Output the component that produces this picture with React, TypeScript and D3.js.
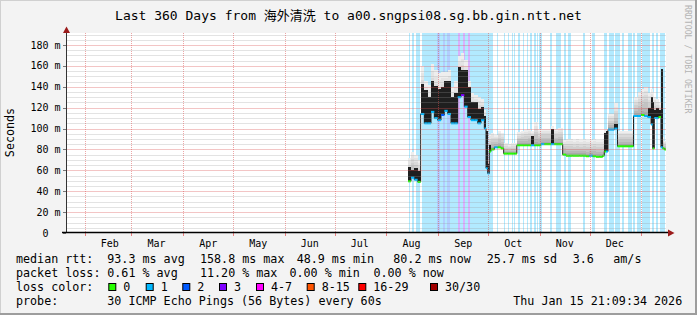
import React from 'react';
import * as d3 from 'd3';

// ---------- data ----------
const titleText = 'Last 360 Days from 海外清洗 to a00.sngpsi08.sg.bb.gin.ntt.net';
const yTickValues = [0, 20, 40, 60, 80, 100, 120, 140, 160, 180];
const yTickLabels = ['0', '20 m', '40 m', '60 m', '80 m', '100 m', '120 m', '140 m', '160 m', '180 m'];
const monthLabels = ['Feb', 'Mar', 'Apr', 'May', 'Jun', 'Jul', 'Aug', 'Sep', 'Oct', 'Nov', 'Dec'];

// day offset from start of 360-day window
const sampleDay = [205.2, 207, 209, 211, 212.8, 215, 217, 219, 221, 223, 225, 227, 229, 231, 233, 235, 237, 239, 241, 243,
  245, 247, 249, 251, 252, 253, 254, 255, 257, 259, 261, 262.6, 265, 267, 269, 270.5, 273, 275, 277, 279,
  281, 283, 285, 287, 289, 291, 293, 295, 298, 300, 302, 304, 306, 308, 310, 312, 314, 316, 318, 320,
  322, 323, 324, 325.2, 327, 329, 330.9, 333, 335, 337, 339, 340.5, 343, 345, 347, 349, 351, 352, 353, 354,
  355.5, 357, 358, 359];
const medianMs = [49.5, 53, 51, 49, 114, 105, 105, 116, 110, 108, 113, 117, 114, 105, 105, 130, 132, 121, 111, 108,
  108, 105, 108, 100, 62, 57, 78, 80, 82, 82, 81, 76, 76, 76, 76, 84, 84, 84, 84, 84,
  84, 84, 85, 85, 85, 85, 85, 85, 75, 74, 74, 74, 74, 74, 74, 73.5, 74, 73.5, 73, 73,
  74, 78, 78, 99, 99, 100, 83, 83, 83, 83, 83, 112, 112, 113, 112, 111, 104, 81, 110, 110,
  111, 82, 81, 80];
const medianSpreadTopMs = [63, 60, 62, 59, 143, 137, 130, 146, 141, 138, 140, 146, 146, 130, 134, 159, 156, 156, 140, 125,
  125, 119, 121, 112, 98, 66, 84, 80, 82, 82, 81, 76, 76, 76, 76, 84, 84, 84, 84, 93,
  84, 84, 85, 85, 85, 100, 85, 85, 75, 74, 74, 74, 74, 74, 74, 73.5, 74, 73.5, 73, 73,
  74, 96, 98, 99, 99, 104, 83, 83, 83, 83, 83, 112, 112, 113, 112, 120, 130, 125, 118, 120,
  118, 157, 81, 80];
const smokeTopMs = [72, 78, 75, 70, 160, 146, 142, 162, 156, 153, 154, 154, 156, 140, 146, 169, 172, 166, 146, 134,
  132, 130, 128, 118, 100, 70, 95, 96, 94, 98, 96, 86, 85, 86, 86, 97, 98, 99, 100, 98,
  106, 100, 100, 100, 100, 102, 100, 101, 89, 90, 90, 89, 90, 89, 90, 89, 89, 90, 89, 89,
  90, 100, 100, 114, 114, 124, 98, 98, 98, 98, 98, 130, 135, 138, 140, 134, 138, 135, 130, 128,
  125, 157, 92, 88];
const sampleLoss = [0, 1, 1, 0, 1, 1, 1, 1, 1, 1, 2, 1, 1, 1, 1, 1, 3, 1, 1, 1,
  1, 1, 1, 1, 1, 1, 0, 0, 1, 0, 0, 0, 0, 0, 0, 0, 0, 0, 0, 1,
  0, 0, 1, 0, 0, 1, 0, 0, 0, 0, 0, 0, 0, 0, 0, 0, 1, 0, 0, 0,
  0, 0, 1, 1, 1, 1, 0, 0, 0, 0, 0, 1, 1, 0, 1, 1, 1, 0, 1, 1,
  0, 1, 0, 0];

// loss background stripes (day offsets)
const stripeStart = [205.8, 207.4, 210, 213.4, 222.8, 224.6, 226, 227.4, 228.6, 230.4, 235, 236.4, 238.4, 239.6, 241.4, 242.4, 245.6,
  258.4, 262.8, 265.4, 267.4, 269, 271.4, 274.4, 276.4, 278.4, 281, 282.4, 283.8, 290.4, 293.8, 299, 301.4,
  310.4, 315.4, 322.8, 325.8, 329.4, 333.8, 337.4, 340.4, 342.4, 345.4, 351.4, 353.8, 356.4, 358.4];
const stripeEnd = [206.6, 209, 212.6, 222.8, 224.6, 226, 227.4, 228.6, 230.4, 235, 236.4, 238.4, 239.6, 241.4, 242.4, 245.1, 256.4,
  259, 263.4, 266, 268, 269.6, 272.4, 275, 277, 279.4, 281.8, 283, 285.8, 291.4, 297, 299.8, 303,
  311.4, 317.4, 324.8, 329, 332.4, 335, 339.4, 341.4, 345, 350.4, 352.8, 355.4, 358, 359.4];
const stripeClass = [1, 1, 1, 1, 2, 1, 2, 1, 2, 1, 3, 1, 3, 1, 3, 1, 1,
  1, 1, 1, 1, 1, 1, 1, 1, 1, 1, 1, 1, 1, 1, 1, 1,
  1, 1, 1, 1, 1, 1, 1, 1, 1, 1, 1, 1, 1, 1];

const lossLabels = ['0', '1', '2', '3', '4-7', '8-15', '16-29', '30/30'];
const lossColors = ['#26ff00', '#00b8ff', '#0059ff', '#7e00ff', '#ff00ff', '#ff5500', '#ff0000', '#a10000'];

const rttLabel = 'median rtt:';
const rttItems = ['93.3 ms avg', '158.8 ms max', '48.9 ms min', '80.2 ms now', '25.7 ms sd', '3.6', 'am/s'];
const lossLabel = 'packet loss:';
const lossItems = ['0.61 % avg', '11.20 % max', '0.00 % min', '0.00 % now'];
const probeLabel = 'probe:';
const probeText = '30 ICMP Echo Pings (56 Bytes) every 60s';
const dateText = 'Thu Jan 15 21:09:34 2026';

// ---------- layout ----------
const W = 697, H = 315;
const X0 = 66, X1 = 666, Y0 = 233, YT = 33;
const MONO = "'DejaVu Sans Mono', monospace";
const rttX = [107.3, 200, 296.7, 393.3, 486.7, 572.7, 613.3];
const lossX = [107.3, 200, 289.5, 373.5];
const boxX = [108.3, 145.7, 182.3, 219, 256, 306.7, 358.3, 430];
const smokeShades = ['#a9a9a9', '#b6b6b6', '#c3c3c3', '#cfcfcf', '#dadada', '#e4e4e4', '#eeeeee'];

export default function App() {
  const endDate = new Date(2026, 0, 15, 21, 9, 34);
  const startDate = new Date(endDate.getTime() - 360 * 864e5);
  const x = d3.scaleTime().domain([startDate, endDate]).range([X0, X1]);
  const xd = (d: number) => x(new Date(startDate.getTime() + d * 864e5));
  const y = d3.scaleLinear().domain([0, 191.5]).range([Y0, YT]);

  const n = sampleDay.length;
  const nextDay = (i: number) => (i + 1 < n ? sampleDay[i + 1] : 360);

  const months = d3.timeMonth.range(d3.timeMonth.ceil(startDate), endDate);
  const hLines = d3.range(5, 191.5, 5);

  const stepLine = d3
    .line<number>()
    .x((i) => xd(i < n ? sampleDay[i] : 360))
    .y((i) => y(medianMs[Math.min(i, n - 1)]))
    .curve(d3.curveStepAfter);
  const lineIdx = d3.range(n + 1);

  const charW = 0.602 * 10;
  const minorCol = 'rgba(150,150,150,0.27)';
  const majorCol = 'rgba(220,80,80,0.33)';

  return (
    <div style={{ position: 'fixed', left: 0, top: 0, width: W, height: H }}>
      <svg width={W} height={H} style={{ display: 'block' }}>
        <rect x={0} y={0} width={W} height={H} fill="#f3f3f3" />
        <rect x={0} y={0} width={W} height={1} fill="#d0d0d0" />
        <rect x={0} y={0} width={1} height={H} fill="#d0d0d0" />
        <rect x={0} y={H - 2} width={W} height={2} fill="#9d9d9d" />
        <rect x={W - 2} y={0} width={2} height={H} fill="#9d9d9d" />

        <text x={348.5} y={19.5} textAnchor="middle" fontFamily={`'DejaVu Sans Mono', 'Noto Sans CJK SC', monospace`} fontSize={13} fill="#000">
          {titleText}
        </text>
        <text transform="translate(684.5,5) rotate(90)" fontFamily={MONO} fontSize={8.2} fill="#b4b4b4">
          RRDTOOL / TOBI OETIKER
        </text>
        <text transform="translate(14,132.5) rotate(-90)" textAnchor="middle" fontFamily={MONO} fontSize={11.7} fill="#000">
          Seconds
        </text>

        {/* canvas */}
        <rect x={X0} y={YT} width={X1 - X0} height={Y0 - YT} fill="#ffffff" />

        {/* loss stripes */}
        <g shapeRendering="crispEdges">
          {stripeStart.map((s, i) => (
            <rect key={i} x={xd(s)} y={YT} width={Math.max(1, xd(stripeEnd[i]) - xd(s))} height={Y0 - YT}
              fill={lossColors[stripeClass[i]]} fillOpacity={0.3} />
          ))}
        </g>

        {/* smoke */}
        <g shapeRendering="crispEdges">
          {sampleDay.map((d, i) => {
            const x0 = xd(d), x1 = xd(nextDay(i));
            const lo = medianMs[i], hi = smokeTopMs[i];
            const k = smokeShades.length;
            return smokeShades.map((c, j) => {
              const a = lo + ((hi - lo) * j) / k, b = lo + ((hi - lo) * (j + 1)) / k;
              return <rect key={`${i}-${j}`} x={x0} y={y(b)} width={x1 - x0} height={Math.max(0, y(a) - y(b))} fill={c} />;
            });
          })}
          {sampleDay.map((d, i) => {
            const top = medianSpreadTopMs[i];
            if (top <= medianMs[i]) return null;
            const x0 = xd(d), x1 = xd(nextDay(i));
            return <rect key={`dk${i}`} x={x0} y={y(top)} width={x1 - x0} height={y(medianMs[i]) - y(top)} fill="#1f1f1f" />;
          })}
        </g>

        {/* median */}
        <path d={stepLine(lineIdx) || ''} fill="none" stroke="#222" strokeWidth={1} />
        <g>
          {sampleDay.map((d, i) => (
            <line key={i} x1={xd(d)} x2={xd(nextDay(i))} y1={y(medianMs[i])} y2={y(medianMs[i])}
              stroke={lossColors[sampleLoss[i]]} strokeWidth={2} />
          ))}
        </g>

        {/* grid */}
        <g shapeRendering="crispEdges" strokeWidth={1}>
          {hLines.map((v) => (
            <line key={`h${v}`} x1={X0} x2={X1} y1={Math.round(y(v)) + 0.5} y2={Math.round(y(v)) + 0.5}
              stroke={v % 20 === 0 ? majorCol : minorCol} />
          ))}
          {months.map((m, i) => (
            <line key={`mv${i}`} x1={Math.round(x(m)) + 0.5} x2={Math.round(x(m)) + 0.5} y1={YT} y2={Y0}
              stroke="rgba(220,80,80,0.5)" strokeDasharray="1,1" />
          ))}
        </g>
        <g shapeRendering="crispEdges">
          {months.map((m, i) => (
            <line key={`mt${i}`} x1={Math.round(x(m)) + 0.5} x2={Math.round(x(m)) + 0.5} y1={Y0} y2={Y0 + 3} stroke="rgba(230,100,100,0.8)" />
          ))}
          {yTickValues.map((v) => (
            <line key={`yt${v}`} x1={63} x2={66} y1={Math.round(y(v)) + 0.5} y2={Math.round(y(v)) + 0.5} stroke="#777" />
          ))}
        </g>

        {/* axes */}
        <line x1={66.5} x2={66.5} y1={Y0} y2={29} stroke="#333" strokeWidth={1} />
        <line x1={62} x2={668} y1={232.5} y2={232.5} stroke="#000" strokeWidth={1.5} />
        <path d="M63,33 L70,33 L66.5,26.5 Z" fill="#9b1b1b" />
        <path d="M668,229.5 L668,236.5 L674.5,233 Z" fill="#9b1b1b" />

        {/* tick labels */}
        <g fontFamily={MONO} fontSize={10} fill="#000">
          {yTickValues.map((v, i) => (
            <text key={`yl${v}`} x={v === 0 ? 60.5 - 2 * charW : 60.5} y={y(v) + 3.5} textAnchor="end">
              {yTickLabels[i]}
            </text>
          ))}
          {monthLabels.map((m, i) => (
            <text key={`ml${m}`} x={x(new Date(2025, i + 1, 15)) + 2} y={246.5} textAnchor="middle">
              {m}
            </text>
          ))}
        </g>

        {/* legend */}
        <g fontFamily={MONO} fontSize={11.7} fill="#000" style={{ whiteSpace: 'pre' }}>
          <text x={16} y={263.4}>{rttLabel}</text>
          {rttItems.map((t, i) => (
            <text key={`r${i}`} x={rttX[i]} y={263.4}>{t}</text>
          ))}
          <text x={16} y={277.4}>{lossLabel}</text>
          {lossItems.map((t, i) => (
            <text key={`l${i}`} x={lossX[i]} y={277.4}>{t}</text>
          ))}
          <text x={16} y={291.4}>loss color:</text>
          {lossLabels.map((t, i) => (
            <g key={`b${i}`}>
              <rect x={boxX[i] + 0.5} y={283.5} width={7} height={7} fill={lossColors[i]} stroke="#000" strokeWidth={1} />
              <text x={boxX[i] + 15} y={291.4}>{t}</text>
            </g>
          ))}
          <text x={16} y={305.1}>{probeLabel}</text>
          <text x={107.3} y={305.1}>{probeText}</text>
          <text x={513.3} y={305.1}>{dateText}</text>
        </g>
      </svg>
    </div>
  );
}
